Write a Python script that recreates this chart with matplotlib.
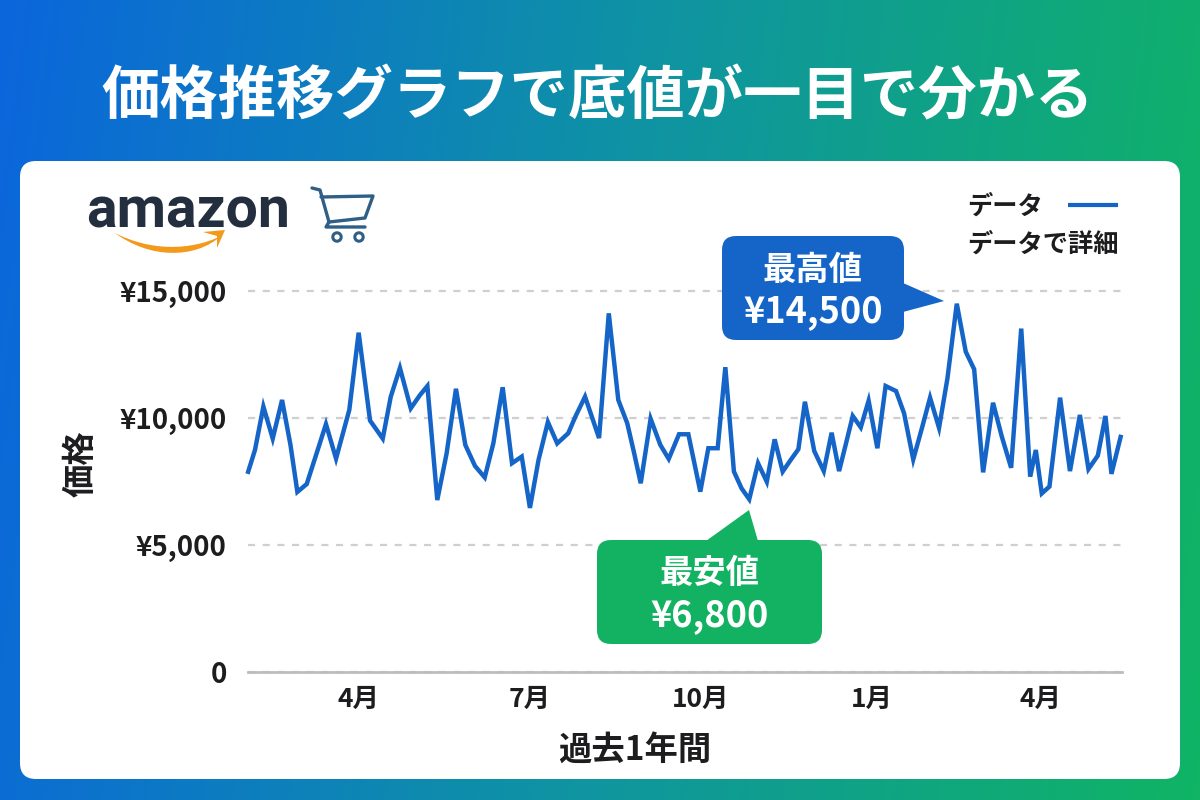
import numpy as np
import matplotlib
matplotlib.use("Agg")
import matplotlib.pyplot as plt
from matplotlib.colors import LinearSegmentedColormap
from matplotlib.patches import FancyBboxPatch, Polygon, PathPatch, Circle
from matplotlib.path import Path

plt.rcParams['font.family'] = ['Noto Sans CJK JP', 'DejaVu Sans']

# -----------------------------
# DATA
# -----------------------------
# days since 1 Feb, one entry per recorded price
days = [0, 4, 8.5, 13.5, 18.5, 23, 26.7, 31.7, 37, 42, 47.4, 54.5, 59.5, 65.6, 72.4, 76.7,
        81.6, 87.4, 92.3, 96.3, 101.6, 106.6, 111.6, 116.6, 121.8, 127, 131.6, 136.6,
        141.6, 146.8, 151.2, 155.8, 160.8, 165.8, 171.7, 175.5, 180.7, 188.2, 193.4,
        198.5, 203.3, 207, 210.5, 215.8, 221, 225.5, 231, 236, 242.4, 246.7, 251.7,
        255.8, 260.4, 264.5, 268.6, 273.3, 278, 282.2, 286.5, 290.8, 294.9, 298.4,
        303.4, 308.5, 312.7, 316.7, 320.4, 324, 328.3, 332.5, 337.2, 341.6, 347.2,
        351.5, 356.4, 361, 365.4, 370.2, 374.7, 379.7, 384.5, 389, 393.8, 399.1,
        403.8, 408.8, 414.2, 419, 422, 425.2, 429.3, 435, 440.3, 445.6, 450.2, 455.2,
        459.3, 462.5, 467.7]
prices = [7800, 8740, 10450, 9190, 10710, 8940, 7090, 7400, 8610, 9760, 8400, 10320, 13360,
          9900, 9190, 10840, 11970, 10380, 10900, 11260, 6770, 8610, 11150, 8940, 8110, 7660,
          9000, 11210, 8220, 8480, 6460, 8350, 9840, 9000, 9400, 10050, 10840, 9210, 14120,
          10710, 9790, 8610, 7430, 9970, 8940, 8390, 9360, 9360, 7100, 8810, 8810,
          12000, 7890, 7230, 6800, 8220, 7490, 9160, 7890, 8350, 8770, 10640,
          8700, 7910, 9420, 7910, 9000, 10080, 9630, 10680, 8810, 11260, 11060,
          10180, 8370, 9590, 10800, 9610, 11560, 14500, 12610, 11920, 7860, 10600,
          9270, 8040, 13520, 7690, 8740, 7030, 7300, 10800, 7910, 10120, 7990, 8520,
          10080, 7800, 9340]

x_tick_days = [59.5, 151, 242.5, 334, 424.5]
x_tick_labels = ["4月", "7月", "10月", "1月", "4月"]
y_ticks = [0, 5000, 10000, 15000]
y_tick_labels = ["0", "¥5,000", "¥10,000", "¥15,000"]

high_price = max(prices)
low_price = prices[54]  # the dip the green callout points at

BLUE = "#1565c8"
GREEN = "#12b262"
INK = "#1d1d1f"

W, H = 1200, 800

fig = plt.figure(figsize=(12, 8), dpi=100)

# -----------------------------
# Background and panel (pixel coordinates)
# -----------------------------
bg = fig.add_axes([0, 0, 1, 1], zorder=0)
bg.set_xlim(0, W)
bg.set_ylim(H, 0)
bg.axis("off")

cmap = LinearSegmentedColormap.from_list("bg", ["#0b66dc", "#0f93a4", "#10b464"])
xx, yy = np.meshgrid(np.linspace(0, 1, 300), np.linspace(0, 1, 200))
bg.imshow(0.92 * xx + 0.08 * yy, cmap=cmap, extent=[0, W, H, 0], aspect="auto", vmin=0, vmax=1)

bg.add_patch(FancyBboxPatch((20, 161), 1160, 618, boxstyle="round,pad=0,rounding_size=16",
                            fc="white", ec="none"))

bg.text(598, 97, "価格推移グラフで底値が一目で分かる", color="white", fontsize=42,
        fontweight="bold", ha="center", va="center")

# -----------------------------
# Logo and cart
# -----------------------------
bg.text(188, 228, "amazon", color="#232f3e", fontsize=41, fontweight="bold", ha="center",
        va="baseline", family="Roboto")
swoosh = Path([(115, 233), (150, 251), (190, 251), (221, 236),
               (195, 259), (150, 259), (115, 233)],
              [Path.MOVETO, Path.CURVE4, Path.CURVE4, Path.CURVE4,
               Path.CURVE4, Path.CURVE4, Path.CURVE4])
bg.add_patch(PathPatch(swoosh, fc="#f39a1c", ec="none"))
bg.add_patch(Polygon([(203, 232), (225, 230), (217, 248), (217, 236)], fc="#f39a1c", ec="none"))

cart = "#2f5f86"
bg.plot([312, 320, 329], [188, 190, 222], color=cart, lw=2.4, solid_capstyle="round")
bg.plot([321, 373, 365, 329], [197, 196, 218, 222], color=cart, lw=2.4, solid_capstyle="round",
        solid_joinstyle="round")
bg.plot([329, 326, 365], [222, 227, 227], color=cart, lw=2.4, solid_capstyle="round")
bg.add_patch(Circle((337, 237), 4.2, fc="white", ec=cart, lw=2.2))
bg.add_patch(Circle((359, 237), 4.2, fc="white", ec=cart, lw=2.2))

# -----------------------------
# Legend
# -----------------------------
bg.text(967, 206, "データ", color=INK, fontsize=18.2, fontweight="bold", va="center")
bg.plot([1068, 1118], [205, 205], color=BLUE, lw=3, solid_capstyle="butt")
bg.text(967, 244, "データで詳細", color=INK, fontsize=18.2, fontweight="bold", va="center")

# -----------------------------
# Chart
# -----------------------------
left, right, top, bottom = 247.5, 1122, 291, 672
ax = fig.add_axes([left / W, 1 - bottom / H, (right - left) / W, (bottom - top) / H], zorder=1)
ax.patch.set_alpha(0)
ax.set_xlim(0, (right - left) / 1.868)
ax.set_ylim(0, 15000)

ax.plot(days, prices, color=BLUE, lw=3.2, solid_joinstyle="miter", solid_capstyle="butt",
        zorder=3, clip_on=False)

ax.set_yticks(y_ticks)
ax.set_yticklabels(y_tick_labels, fontsize=20, fontweight="bold", color=INK)
ax.set_xticks(x_tick_days)
ax.set_xticklabels(x_tick_labels, fontsize=19, fontweight="bold", color=INK)
ax.tick_params(length=0, axis="y", pad=15)
ax.tick_params(length=0, axis="x", pad=10)
ax.grid(axis="y", color="#cfcfcf", lw=1.6, ls=(0, (3.2, 3.4)))
for line in ax.get_ygridlines():
    line.set_clip_on(False)
ax.set_axisbelow(True)
for name in ["top", "right", "left"]:
    ax.spines[name].set_visible(False)
ax.spines["bottom"].set_color("#bdbdbd")
ax.spines["bottom"].set_linewidth(2)

bg.text(81, 464, "価格", color=INK, fontsize=24, fontweight="bold", rotation=90,
        ha="center", va="center")
bg.text(635, 750, "過去1年間", color=INK, fontsize=24, fontweight="bold", ha="center", va="center")

# -----------------------------
# Callouts
# -----------------------------
over = fig.add_axes([0, 0, 1, 1], zorder=2)
over.set_xlim(0, W)
over.set_ylim(H, 0)
over.axis("off")

over.add_patch(FancyBboxPatch((722, 236), 182, 104, boxstyle="round,pad=0,rounding_size=14",
                              fc=BLUE, ec="none"))
over.add_patch(Polygon([(903, 283), (944, 301), (903, 312)], fc=BLUE, ec="none"))
over.text(813, 270, "最高値", color="white", fontsize=24, fontweight="bold", ha="center", va="center")
over.text(813, 312, f"¥{high_price:,}", color="white", fontsize=26, fontweight="bold",
          ha="center", va="center")

over.add_patch(FancyBboxPatch((597, 540), 225, 104, boxstyle="round,pad=0,rounding_size=14",
                              fc=GREEN, ec="none"))
over.add_patch(Polygon([(706, 541), (749, 510), (758, 541)], fc=GREEN, ec="none"))
over.text(710, 573, "最安値", color="white", fontsize=24, fontweight="bold", ha="center", va="center")
over.text(710, 616, f"¥{low_price:,}", color="white", fontsize=26, fontweight="bold",
          ha="center", va="center")

plt.savefig("out.png", dpi=100)
